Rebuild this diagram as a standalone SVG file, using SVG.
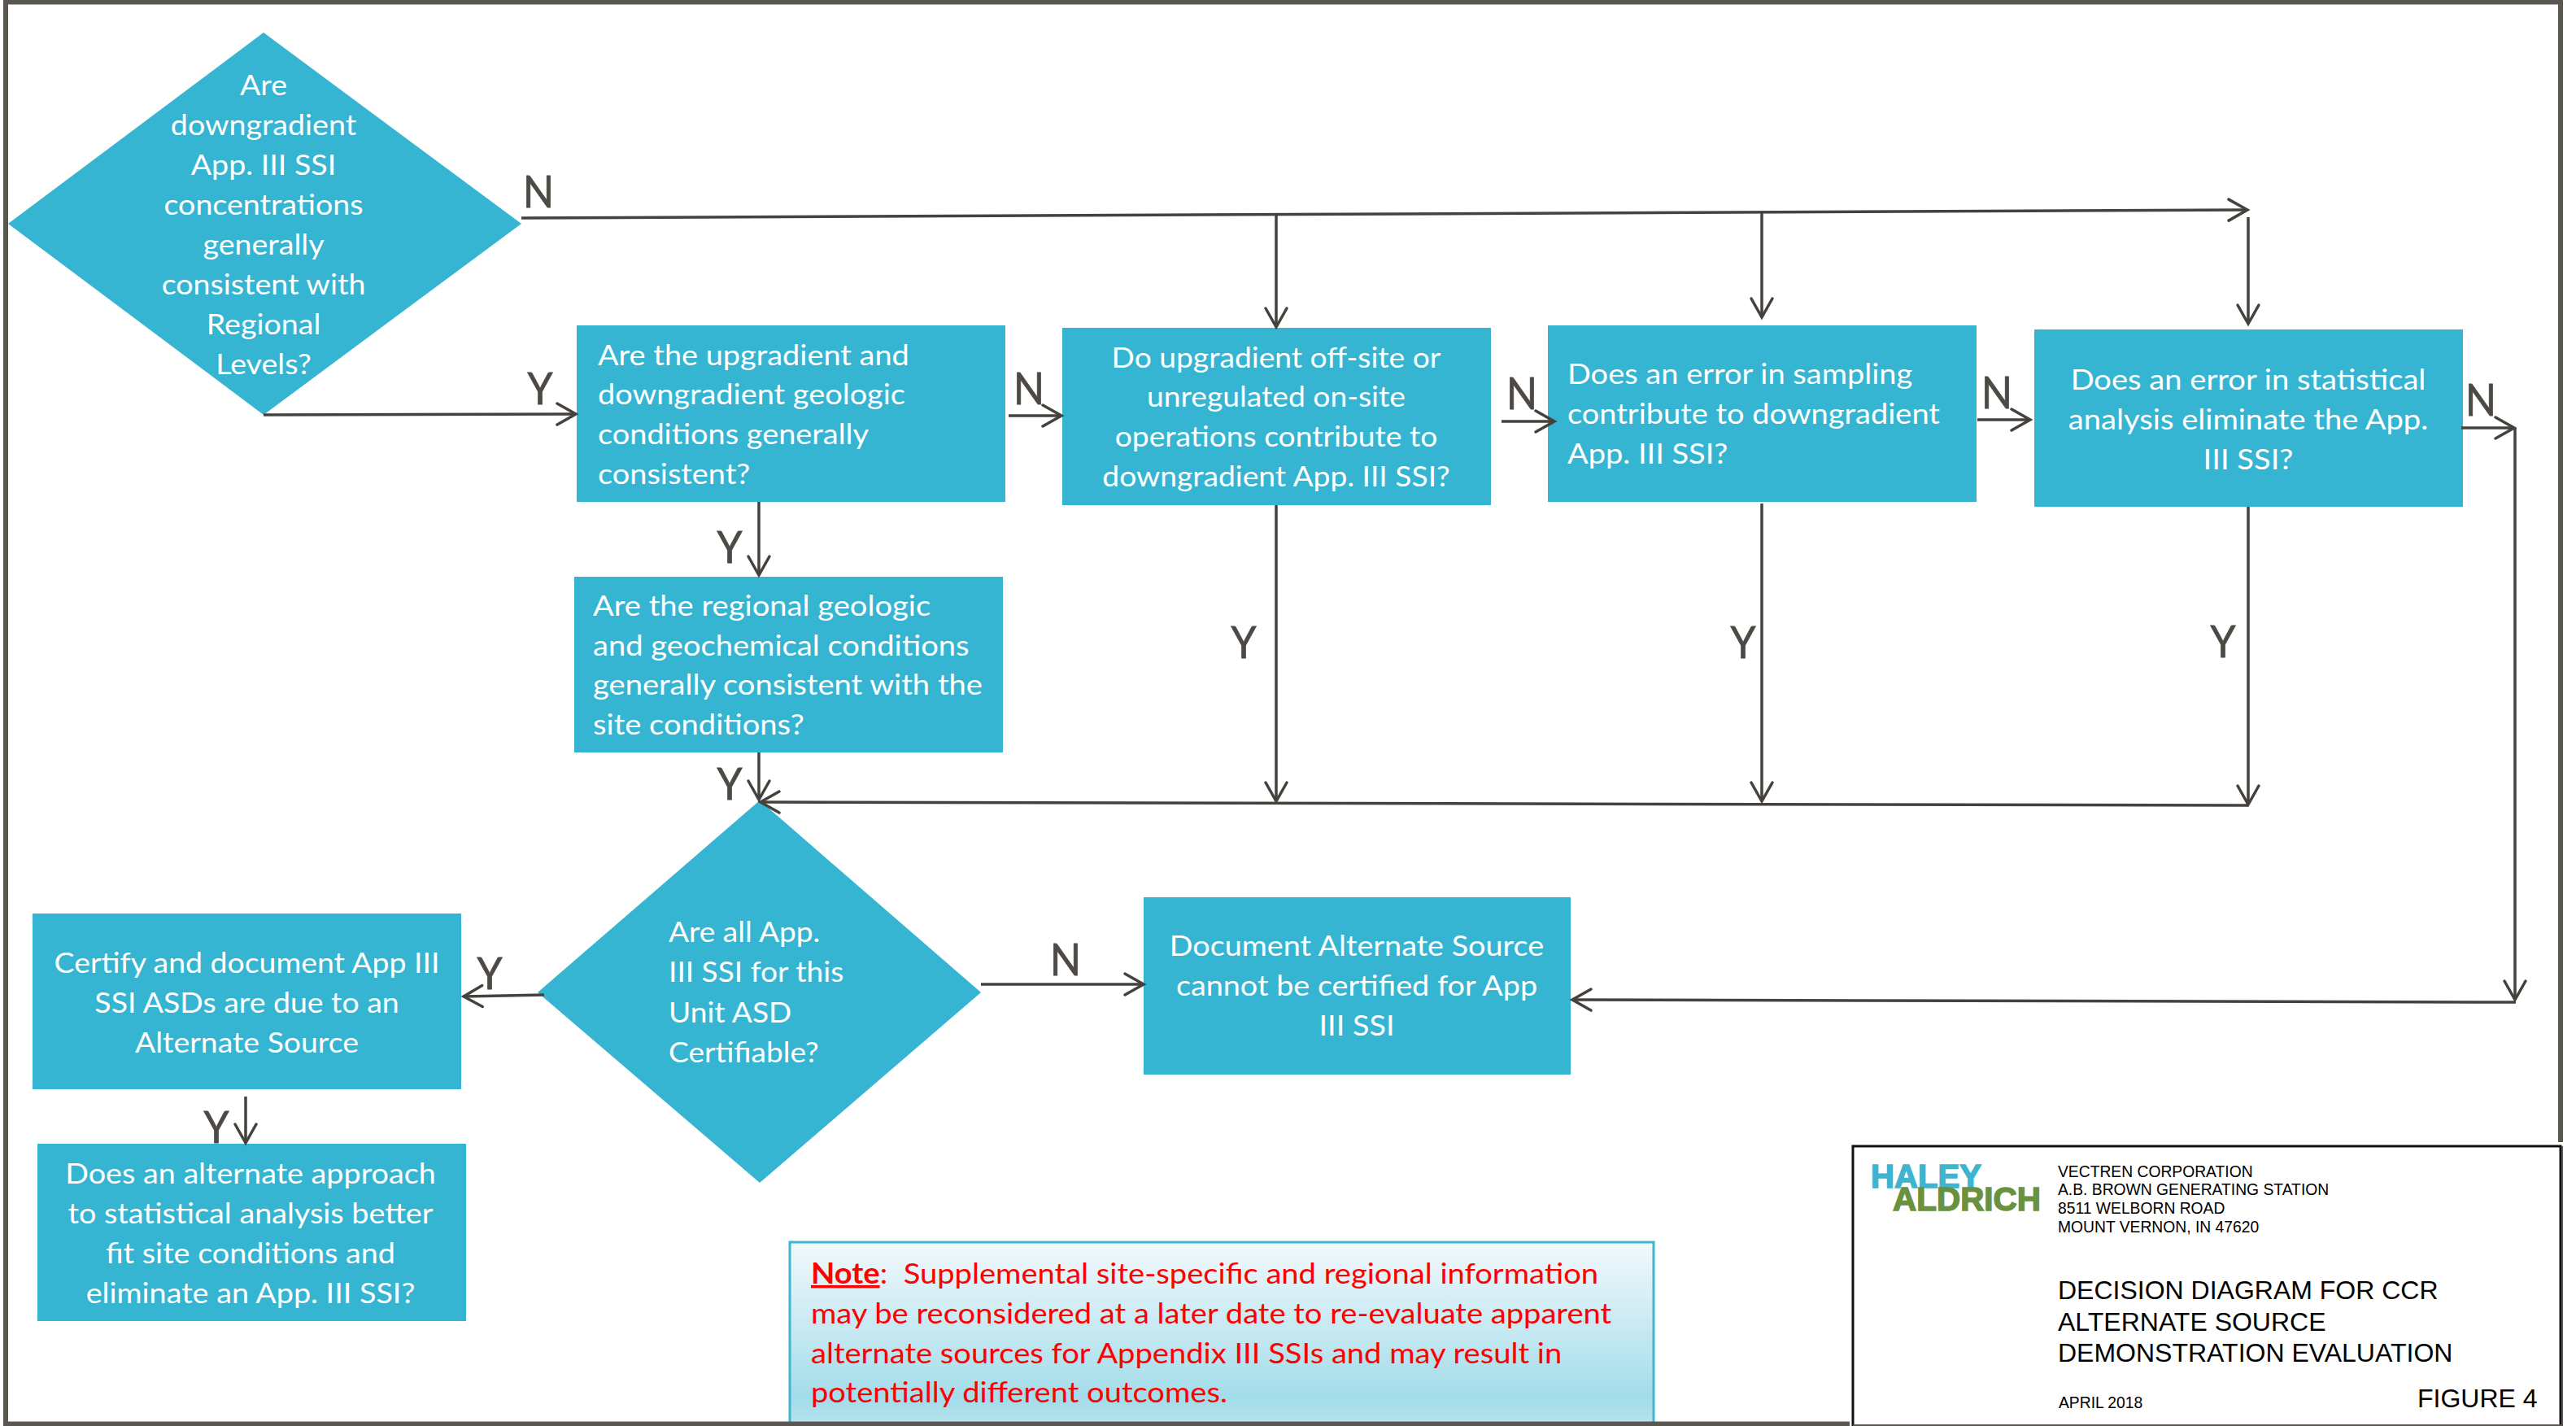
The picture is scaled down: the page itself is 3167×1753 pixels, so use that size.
<svg xmlns="http://www.w3.org/2000/svg" width="3167" height="1753" viewBox="0 0 3167 1753">
<style>
.n{fill:#35b5d1}
.t{font-family:"Lato","Liberation Sans",sans-serif;font-size:35.3px;fill:#fff}
.m{text-anchor:middle}
.c{fill:none;stroke:#45413d;stroke-width:3.5;marker-end:url(#a)}
.l{font-family:"Lato","Liberation Sans",sans-serif;font-size:54px;fill:#4d4944;stroke:#4d4944;stroke-width:.8;text-anchor:middle}
.r{font-family:"Lato","Liberation Sans",sans-serif;font-size:35.3px;fill:#f00}
.k{font-family:"Liberation Sans",Arial,sans-serif;fill:#000}
.s{font-size:19.3px}
.b{font-size:32px}
.h{font-family:"Liberation Sans",Arial,sans-serif;font-weight:700;font-size:40px;stroke-width:1.5}
</style>
<defs>
<marker id="a" markerUnits="userSpaceOnUse" markerWidth="40" markerHeight="40" viewBox="-30 -20 40 40" refX="0" refY="0" orient="auto" overflow="visible">
<path d="M-23,-13L0,0L-23,13" fill="none" stroke="#45413d" stroke-width="3.5" stroke-linecap="round"/>
</marker>
<linearGradient id="g" x1="0" y1="0" x2="0" y2="1">
<stop offset="0" stop-color="#f2f9fc"/><stop offset="0.8" stop-color="#a3dcea"/><stop offset="1" stop-color="#bfe7f0"/>
</linearGradient>
</defs>
<rect width="3167" height="1753" fill="#fff"/>
<g id="note">
<rect x="971" y="1527" width="1062" height="240" fill="url(#g)" stroke="#40b5d0" stroke-width="3"/>
<g transform="translate(997,0) scale(1.08,1)">
<text class="r" x="0" y="1578" xml:space="preserve"><tspan font-weight="700" text-decoration="underline">Note</tspan>:  Supplemental site-specific and regional information</text>
<text class="r" x="0" y="1627">may be reconsidered at a later date to re-evaluate apparent</text>
<text class="r" x="0" y="1676">alternate sources for Appendix III SSIs and may result in</text>
<text class="r" x="0" y="1724">potentially different outcomes.</text>
</g>
</g>
<rect id="frame" x="7" y="2.5" width="3141" height="1748" fill="none" stroke="#5a5750" stroke-width="6"/>
<g id="n1"><polygon class="n" points="324,40 10,275 324,510 641,275"/>
<g transform="translate(324,0) scale(1.065,1)">
<text class="t m" x="0" y="117">Are</text><text class="t m" x="0" y="166">downgradient</text><text class="t m" x="0" y="215">App. III SSI</text><text class="t m" x="0" y="264">concentrations</text><text class="t m" x="0" y="313">generally</text><text class="t m" x="0" y="362">consistent with</text><text class="t m" x="0" y="411">Regional</text><text class="t m" x="0" y="460">Levels?</text></g></g>
<g id="n2"><rect class="n" x="709" y="400" width="527" height="217"/>
<g transform="translate(735,0) scale(1.074,1)">
<text class="t" x="0" y="449">Are the upgradient and</text><text class="t" x="0" y="497">downgradient geologic</text><text class="t" x="0" y="546">conditions generally</text><text class="t" x="0" y="595">consistent?</text></g></g>
<g id="n3"><rect class="n" x="1306" y="403" width="527" height="218"/>
<g transform="translate(1569,0) scale(1.054,1)">
<text class="t m" x="0" y="452">Do upgradient off-site or</text><text class="t m" x="0" y="500">unregulated on-site</text><text class="t m" x="0" y="549">operations contribute to</text><text class="t m" x="0" y="598">downgradient App. III SSI?</text></g></g>
<g id="n4"><rect class="n" x="1903" y="400" width="527" height="217"/>
<g transform="translate(1927,0) scale(1.076,1)">
<text class="t" x="0" y="472">Does an error in sampling</text><text class="t" x="0" y="521">contribute to downgradient</text><text class="t" x="0" y="570">App. III SSI?</text></g></g>
<g id="n5"><rect class="n" x="2501" y="405" width="527" height="218"/>
<g transform="translate(2764,0) scale(1.08,1)">
<text class="t m" x="0" y="479">Does an error in statistical</text><text class="t m" x="0" y="528">analysis eliminate the App.</text><text class="t m" x="0" y="577">III SSI?</text></g></g>
<g id="n6"><rect class="n" x="706" y="709" width="527" height="216"/>
<g transform="translate(729,0) scale(1.08,1)">
<text class="t" x="0" y="757">Are the regional geologic</text><text class="t" x="0" y="806">and geochemical conditions</text><text class="t" x="0" y="854">generally consistent with the</text><text class="t" x="0" y="903">site conditions?</text></g></g>
<g id="n7"><polygon class="n" points="934,984 661,1220 934,1454 1206,1220"/>
<g transform="translate(822,0) scale(1.05,1)">
<text class="t" x="0" y="1158">Are all App.</text><text class="t" x="0" y="1207">III SSI for this</text><text class="t" x="0" y="1257">Unit ASD</text><text class="t" x="0" y="1306">Certifiable?</text></g></g>
<g id="n8"><rect class="n" x="1406" y="1103" width="525" height="218"/>
<g transform="translate(1668,0) scale(1.07,1)">
<text class="t m" x="0" y="1175">Document Alternate Source</text><text class="t m" x="0" y="1224">cannot be certified for App</text><text class="t m" x="0" y="1273">III SSI</text></g></g>
<g id="n9"><rect class="n" x="40" y="1123" width="527" height="216"/>
<g transform="translate(303.500,0) scale(1.06,1)">
<text class="t m" x="0" y="1196">Certify and document App III</text><text class="t m" x="0" y="1245">SSI ASDs are due to an</text><text class="t m" x="0" y="1294">Alternate Source</text></g></g>
<g id="n10"><rect class="n" x="46" y="1406" width="527" height="218"/>
<g transform="translate(308,0) scale(1.069,1)">
<text class="t m" x="0" y="1455">Does an alternate approach</text><text class="t m" x="0" y="1504">to statistical analysis better</text><text class="t m" x="0" y="1553">fit site conditions and</text><text class="t m" x="0" y="1602">eliminate an App. III SSI?</text></g></g>
<g id="connectors">
<path class="c" d="M641,268L2763,258"/>
<path class="c" d="M1569,264V402"/>
<path class="c" d="M2166,260V390"/>
<path class="c" d="M2764,267V398"/>
<path class="c" d="M324,510L708,509"/>
<path class="c" d="M1240,511L1305,511"/>
<path class="c" d="M1846,518L1911,518"/>
<path class="c" d="M2431,516L2496,516"/>
<path class="c" d="M3026,526L3091,526"/>
<path class="c" d="M3092,526V1229"/>
<path class="c" d="M3093,1232L1933,1229"/>
<path class="c" d="M933,617V707"/>
<path class="c" d="M933,925V983"/>
<path class="c" d="M1569,621V985"/>
<path class="c" d="M2166,619V985"/>
<path class="c" d="M2764,623V989"/>
<path class="c" d="M2764,990L935,986"/>
<path class="c" d="M1206,1210H1406"/>
<path class="c" d="M669,1223L570,1225"/>
<path class="c" d="M302,1348V1405"/>
<text class="l" x="662" y="255" textLength="38" lengthAdjust="spacingAndGlyphs">N</text>
<text class="l" x="664" y="497" textLength="31" lengthAdjust="spacingAndGlyphs">Y</text>
<text class="l" x="1265" y="497" textLength="38" lengthAdjust="spacingAndGlyphs">N</text>
<text class="l" x="1871" y="503" textLength="38" lengthAdjust="spacingAndGlyphs">N</text>
<text class="l" x="2455" y="502" textLength="38" lengthAdjust="spacingAndGlyphs">N</text>
<text class="l" x="3050" y="511" textLength="38" lengthAdjust="spacingAndGlyphs">N</text>
<text class="l" x="897" y="692" textLength="31" lengthAdjust="spacingAndGlyphs">Y</text>
<text class="l" x="1529" y="809" textLength="31" lengthAdjust="spacingAndGlyphs">Y</text>
<text class="l" x="2143" y="809" textLength="31" lengthAdjust="spacingAndGlyphs">Y</text>
<text class="l" x="2733" y="808" textLength="31" lengthAdjust="spacingAndGlyphs">Y</text>
<text class="l" x="897" y="983" textLength="31" lengthAdjust="spacingAndGlyphs">Y</text>
<text class="l" x="1310" y="1199" textLength="38" lengthAdjust="spacingAndGlyphs">N</text>
<text class="l" x="602" y="1216" textLength="31" lengthAdjust="spacingAndGlyphs">Y</text>
<text class="l" x="266" y="1405" textLength="31" lengthAdjust="spacingAndGlyphs">Y</text>
</g>
<g id="titleblock">
<rect x="2274" y="1404" width="893" height="349" fill="#fff"/>
<rect x="2278" y="1409" width="870" height="346" fill="none" stroke="#111" stroke-width="3"/>
<path d="M3150,1409V1753" stroke="#5a5750" stroke-width="2" fill="none"/>
<path d="M2278,1752H3150" stroke="#5a5750" stroke-width="2" fill="none"/>
<text class="h" x="2300" y="1460" fill="#3eb4cf" stroke="#3eb4cf" textLength="136" lengthAdjust="spacingAndGlyphs">HALEY</text>
<text class="h" x="2327" y="1488" fill="#6a9140" stroke="#6a9140" textLength="182" lengthAdjust="spacingAndGlyphs">ALDRICH</text>
<text class="k s" x="2530" y="1447">VECTREN CORPORATION</text>
<text class="k s" x="2530" y="1469">A.B. BROWN GENERATING STATION</text>
<text class="k s" x="2530" y="1492">8511 WELBORN ROAD</text>
<text class="k s" x="2530" y="1515">MOUNT VERNON, IN 47620</text>
<text class="k b" x="2530" y="1597">DECISION DIAGRAM FOR CCR</text>
<text class="k b" x="2530" y="1636">ALTERNATE SOURCE</text>
<text class="k b" x="2530" y="1674">DEMONSTRATION EVALUATION</text>
<text class="k s" x="2531" y="1731">APRIL 2018</text>
<text class="k b" x="2972" y="1730">FIGURE 4</text>
</g>
</svg>
